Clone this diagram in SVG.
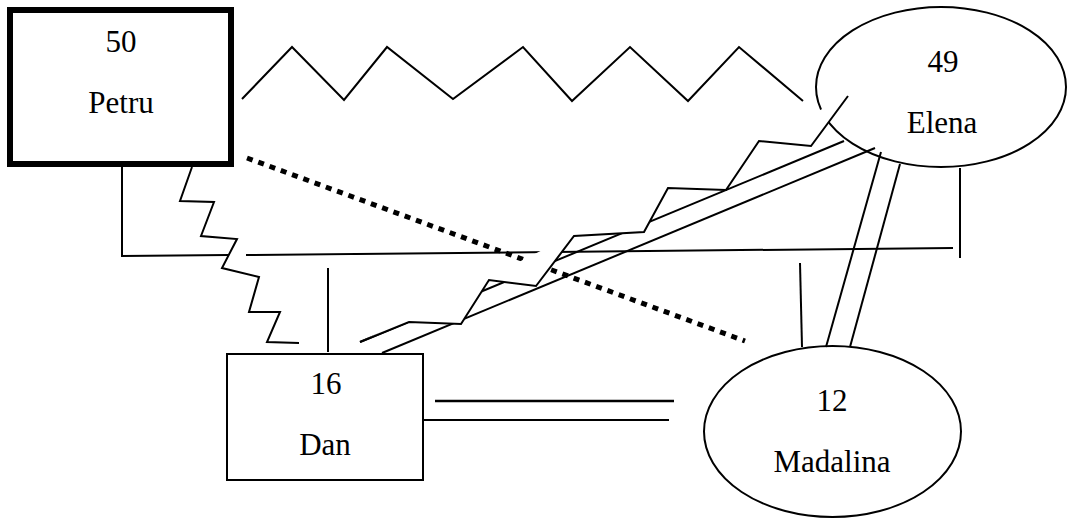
<svg xmlns="http://www.w3.org/2000/svg" width="1070" height="518" viewBox="0 0 1070 518">
<style>
.ln{fill:none;stroke:#000;stroke-width:2;stroke-linejoin:miter}
.ln2{fill:none;stroke:#000;stroke-width:2.4}
.dot{fill:none;stroke:#000;stroke-width:5;stroke-dasharray:6 6}
.nd{fill:#fff;stroke:#000;stroke-width:2}
.lbl{font-size:31px;fill:#000;text-anchor:middle}
</style>
<rect width="1070" height="518" fill="#fff"/>
<g font-family="Liberation Serif, DejaVu Serif, Times New Roman, serif">
<g id="node-elena">
<ellipse cx="941" cy="87" rx="125" ry="80" fill="none" stroke="#000" stroke-width="2"/>
<text class="lbl" x="943" y="72">49</text>
<text class="lbl" x="942" y="133">Elena</text>
</g>
<g id="node-petru">
<rect x="10" y="10" width="221" height="154" fill="#fff" stroke="#000" stroke-width="6"/>
<text class="lbl" x="121" y="52">50</text>
<text class="lbl" x="121" y="113">Petru</text>
</g>
<g id="node-dan">
<rect class="nd" x="227" y="354" width="196" height="126"/>
<text class="lbl" x="326" y="394">16</text>
<text class="lbl" x="325" y="455">Dan</text>
</g>
<g id="node-madalina">
<ellipse class="nd" cx="832.5" cy="431.5" rx="128.5" ry="85.5"/>
<text class="lbl" x="832" y="411">12</text>
<text class="lbl" x="832" y="472">Madalina</text>
</g>
</g>
<g id="connectors">
<polyline class="ln" points="242,99 292,47 344,100 387,47 453,99 523,47 572,101 630,47 688,101 739,47 803,101"/>
<polyline class="ln" points="192,167 180,201 214,202 201,236 237,239 222,268 259,277 249,312 280,312 267,342 299,343"/>
<polyline class="ln" points="122,167 122,257"/>
<polyline class="ln" points="122,256 228,255"/>
<line class="ln" x1="246" y1="255" x2="953" y2="248"/>
<line class="ln" x1="960" y1="168" x2="960" y2="258"/>
<line class="ln" x1="328" y1="268" x2="328" y2="352"/>
<line class="ln" x1="800" y1="263" x2="802" y2="347"/>
<line class="ln" x1="881" y1="152" x2="826" y2="347"/>
<line class="ln" x1="900" y1="164" x2="850" y2="347"/>
<line class="ln2" x1="435" y1="401" x2="674" y2="401"/>
<line class="ln" x1="423" y1="420" x2="669" y2="420"/>
<line class="dot" x1="247" y1="158" x2="745" y2="341"/>
<line class="ln" x1="360" y1="342" x2="844" y2="141"/>
<line class="ln" x1="382" y1="353" x2="875" y2="148"/>
<polyline points="360,342 409,322 461,324 489,280 536,286 574,236 644,232 668,188 726,190 759,141 811,146 848,96" fill="#fff" stroke="#000" stroke-width="2"/>
</g>
</svg>
